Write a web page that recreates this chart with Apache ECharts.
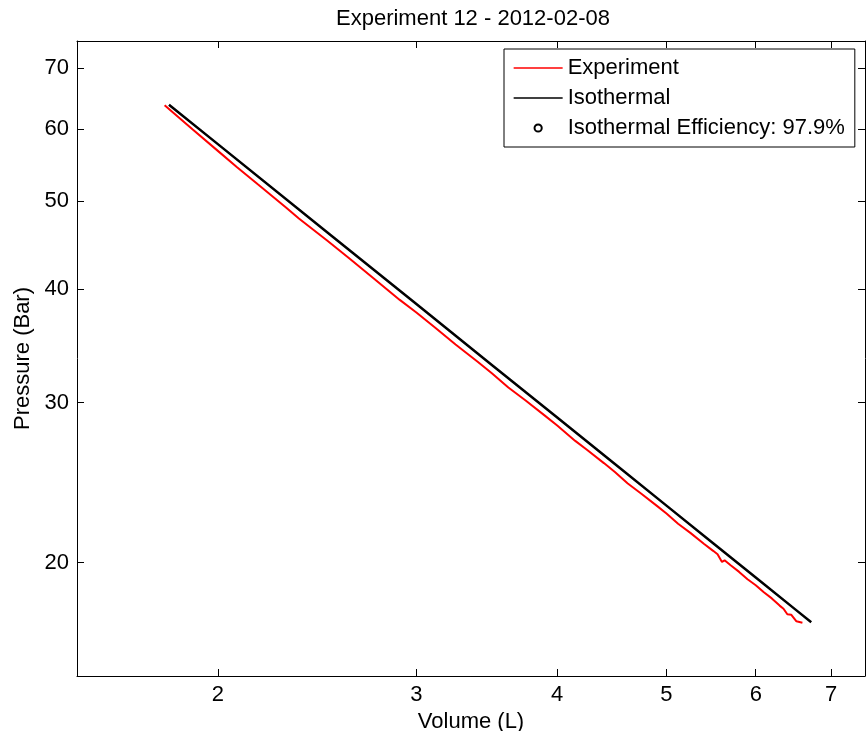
<!DOCTYPE html>
<html><head><meta charset="utf-8">
<script src="https://cdn.jsdelivr.net/npm/echarts@6/dist/echarts.min.js"></script>
<style>html,body{margin:0;padding:0;background:#fff}#c{width:866px;height:731px}</style>
</head><body><div id="c"></div>
<script>
const titleText = 'Experiment 12 - 2012-02-08';
const xName = 'Volume (L)';
const yName = 'Pressure (Bar)';
const xTicks = [2, 3, 4, 5, 6, 7];
const yTicks = [20, 30, 40, 50, 60, 70];
const xRange = [1.5, 7.5];
const yRange = [15, 75];
const expVolume = [1.794, 1.85, 1.9, 2.0, 2.08, 2.17, 2.3, 2.36, 2.5, 2.62, 2.75, 2.9, 3.0, 3.12, 3.25, 3.4, 3.5, 3.62, 3.75, 3.9, 4.0, 4.15, 4.25, 4.4, 4.5, 4.62, 4.75, 4.9, 5.0, 5.12, 5.25, 5.4, 5.5, 5.55, 5.6, 5.63, 5.7, 5.8, 5.9, 6.0, 6.1, 6.2, 6.3, 6.35, 6.4, 6.45, 6.52, 6.6];
const expPressure = [63.74, 61.68, 59.94, 56.77, 54.47, 52.16, 49.16, 47.82, 45.23, 43.16, 41.08, 38.91, 37.69, 36.24, 34.76, 33.26, 32.31, 31.17, 30.15, 29.02, 28.30, 27.22, 26.61, 25.73, 25.15, 24.43, 23.81, 23.10, 22.64, 22.06, 21.56, 20.96, 20.60, 20.42, 20.03, 20.11, 19.86, 19.53, 19.17, 18.88, 18.55, 18.26, 17.93, 17.79, 17.54, 17.52, 17.23, 17.17];
const isoVolume = [1.81, 2.0, 2.5, 3.0, 3.5, 4.0, 4.5, 5.0, 5.5, 6.0, 6.5, 6.72];
const isoPressure = [63.81, 57.75, 46.2, 38.5, 33.0, 28.88, 25.67, 23.1, 21.0, 19.25, 17.77, 17.19];
const seriesNames = ['Experiment', 'Isothermal', 'Isothermal Efficiency: 97.9%'];

const L = Math.log10;
const toPairs = (xs, ys) => xs.map((x, i) => [L(x), L(ys[i])]);
const font = '"Liberation Sans", Arial, Helvetica, sans-serif';
const fmt = v => String(Math.round(Math.pow(10, v)));

function makeAxis(range, ticks, position, showLabel, extra) {
  return Object.assign({
    type: 'value', position: position,
    min: L(range[0]), max: L(range[1]),
    splitLine: { show: false },
    axisLine: { show: true, onZero: false, lineStyle: { color: '#000', width: 1 } },
    axisTick: { show: true, inside: true, length: 7, customValues: ticks.map(L), lineStyle: { color: '#000', width: 1 } },
    axisLabel: { show: showLabel, customValues: ticks.map(L), formatter: fmt, color: '#000', fontFamily: font, fontSize: 22 }
  }, extra || {});
}

const chart = echarts.init(document.getElementById('c'), null, { renderer: 'canvas' });
chart.setOption({
  animation: false,
  backgroundColor: '#fff',
  title: { text: titleText, left: 331, top: 3, textStyle: { fontFamily: font, fontSize: 22, fontWeight: 'normal', color: '#000' } },
  grid: { left: 77, right: 1, top: 41, bottom: 55, containLabel: false, outerBoundsMode: 'none' },
  xAxis: [
    makeAxis(xRange, xTicks, 'bottom', true, { name: xName, nameLocation: 'middle', nameGap: 34, nameTextStyle: { fontFamily: font, fontSize: 22, color: '#000' } }),
    makeAxis(xRange, xTicks, 'top', false)
  ],
  yAxis: [
    makeAxis(yRange, yTicks, 'left', true, { name: yName, nameLocation: 'middle', nameGap: 42, nameTextStyle: { fontFamily: font, fontSize: 22, color: '#000' } }),
    makeAxis(yRange, yTicks, 'right', false)
  ],
  legend: {
    orient: 'vertical', left: 504, top: 49,
    data: [
      { name: seriesNames[0], itemStyle: { opacity: 0 } },
      { name: seriesNames[1], itemStyle: { opacity: 0 } },
      { name: seriesNames[2], lineStyle: { width: 0 } }
    ],
    itemWidth: 49, itemHeight: 9, itemGap: 8,
    backgroundColor: '#fff', borderColor: '#000', borderWidth: 1, borderRadius: 0,
    padding: [8, 10, 8, 9],
    textStyle: { fontFamily: font, fontSize: 22, color: '#000', lineHeight: 22 },
    lineStyle: { width: 1.3 },
    selectedMode: false
  },
  series: [
    { name: seriesNames[0], type: 'line', xAxisIndex: 0, yAxisIndex: 0, data: toPairs(expVolume, expPressure), symbol: 'none', lineStyle: { color: '#ff0000', width: 2 }, itemStyle: { color: '#ff0000' }, z: 2 },
    { name: seriesNames[1], type: 'line', xAxisIndex: 0, yAxisIndex: 0, data: toPairs(isoVolume, isoPressure), symbol: 'none', lineStyle: { color: '#000', width: 2.5 }, itemStyle: { color: '#000' }, z: 3 },
    { name: seriesNames[2], type: 'line', xAxisIndex: 0, yAxisIndex: 0, data: [], symbol: 'emptyCircle', symbolSize: 6, lineStyle: { color: '#000', width: 0 }, itemStyle: { color: '#000' } }
  ]
});
</script></body></html>
